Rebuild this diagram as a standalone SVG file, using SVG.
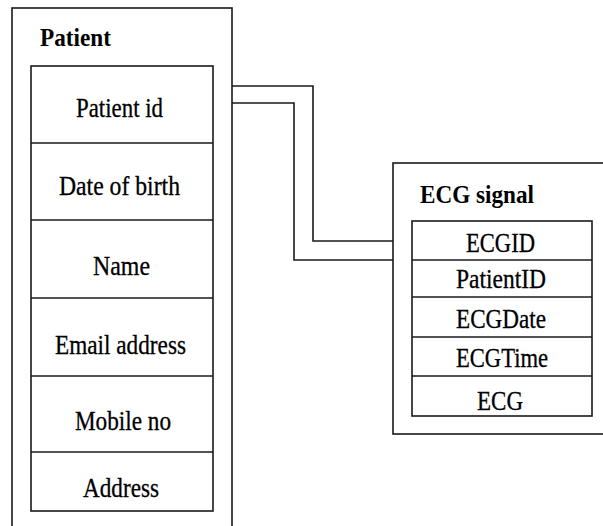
<svg xmlns="http://www.w3.org/2000/svg" width="603" height="526" viewBox="0 0 603 526">
  <style>
    .box { fill: none; stroke: #1a1a1a; stroke-width: 1.6; }
    .wire { fill: none; stroke: #1a1a1a; stroke-width: 1.6; }
    .title { font-family: "Liberation Serif", "Times New Roman", serif; font-weight: bold; font-size: 26px; fill: #000; }
    .field { font-family: "Liberation Serif", "Times New Roman", serif; font-size: 27px; fill: #000; stroke: #000; stroke-width: 0.3; }
  </style>
  <rect width="603" height="526" fill="#fff"/>

  <g id="patient">
    <rect class="box" x="12" y="8" width="220" height="530"/>
    <text class="title" x="40" y="46" textLength="71" lengthAdjust="spacingAndGlyphs">Patient</text>
    <rect class="box" x="31" y="66" width="182" height="445"/>
    <line class="box" x1="31" y1="143" x2="213" y2="143"/>
    <line class="box" x1="31" y1="220" x2="213" y2="220"/>
    <line class="box" x1="31" y1="298" x2="213" y2="298"/>
    <line class="box" x1="31" y1="376" x2="213" y2="376"/>
    <line class="box" x1="31" y1="452" x2="213" y2="452"/>
    <text class="field" x="76" y="117" textLength="87" lengthAdjust="spacingAndGlyphs">Patient id</text>
    <text class="field" x="59" y="195" textLength="121" lengthAdjust="spacingAndGlyphs">Date of birth</text>
    <text class="field" x="93" y="275" textLength="57" lengthAdjust="spacingAndGlyphs">Name</text>
    <text class="field" x="55" y="354" textLength="131" lengthAdjust="spacingAndGlyphs">Email address</text>
    <text class="field" x="75" y="430" textLength="96" lengthAdjust="spacingAndGlyphs">Mobile no</text>
    <text class="field" x="83" y="497" textLength="76" lengthAdjust="spacingAndGlyphs">Address</text>
  </g>

  <g id="ecg-signal">
    <rect class="box" x="393" y="163" width="220" height="271"/>
    <text class="title" x="420" y="203" textLength="114" lengthAdjust="spacingAndGlyphs">ECG signal</text>
    <rect class="box" x="412" y="221" width="180" height="195"/>
    <line class="box" x1="412" y1="260" x2="592" y2="260"/>
    <line class="box" x1="412" y1="297" x2="592" y2="297"/>
    <line class="box" x1="412" y1="337" x2="592" y2="337"/>
    <line class="box" x1="412" y1="376" x2="592" y2="376"/>
    <text class="field" x="466" y="252" textLength="69" lengthAdjust="spacingAndGlyphs">ECGID</text>
    <text class="field" x="456" y="288" textLength="90" lengthAdjust="spacingAndGlyphs">PatientID</text>
    <text class="field" x="456" y="328" textLength="90" lengthAdjust="spacingAndGlyphs">ECGDate</text>
    <text class="field" x="456" y="367" textLength="92" lengthAdjust="spacingAndGlyphs">ECGTime</text>
    <text class="field" x="477" y="410" textLength="46" lengthAdjust="spacingAndGlyphs">ECG</text>
  </g>

  <g id="connectors">
    <polyline class="wire" points="232,86 313,86 313,241 393,241"/>
    <polyline class="wire" points="232,103 294,103 294,260 393,260"/>
  </g>
</svg>
